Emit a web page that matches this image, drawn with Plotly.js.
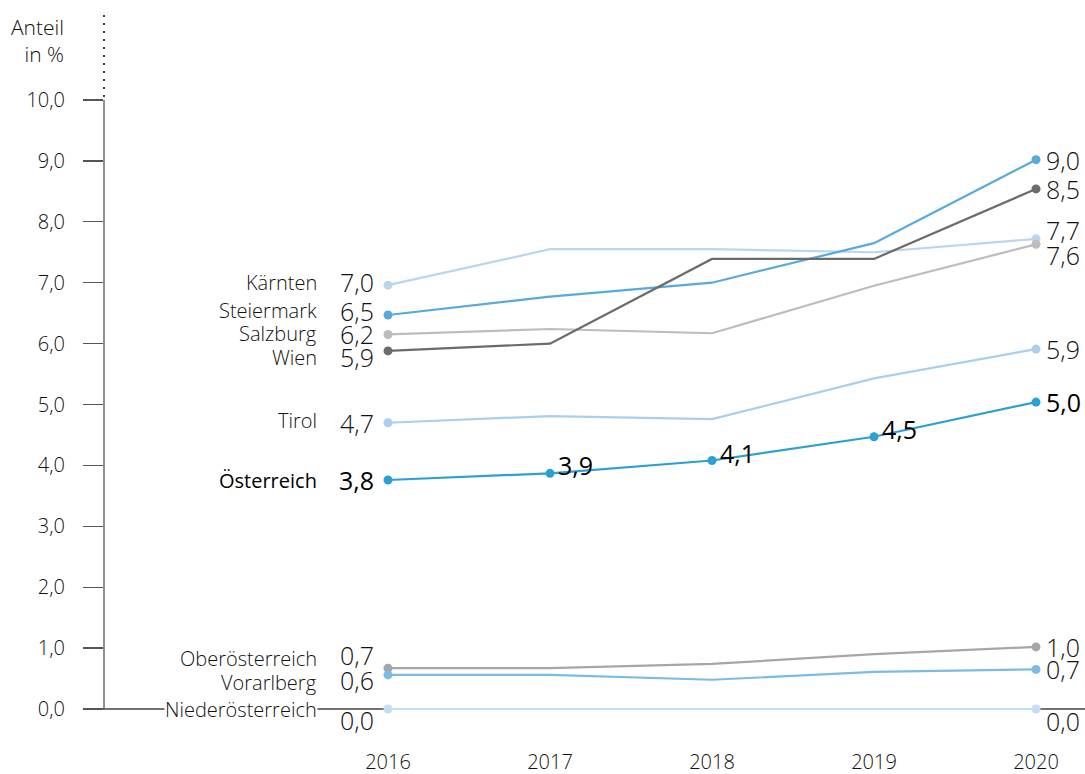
<!DOCTYPE html>
<html><head><meta charset="utf-8">
<script src="https://cdn.plot.ly/plotly-3.0.1.min.js"></script>
<style>html,body{margin:0;padding:0;background:#fff}#chart{width:1085px;height:774px}</style>
</head><body><div id="chart"></div>
<script>
// ---- data ----
const years = [2016, 2017, 2018, 2019, 2020];
const regions = ["Kärnten", "Steiermark", "Salzburg", "Wien", "Tirol", "Österreich", "Oberösterreich", "Vorarlberg", "Niederösterreich"];
const kaernten        = [6.96, 7.55, 7.55, 7.50, 7.72];
const steiermark      = [6.47, 6.77, 7.00, 7.65, 9.02];
const salzburg        = [6.15, 6.24, 6.17, 6.95, 7.63];
const wien            = [5.88, 6.00, 7.39, 7.39, 8.54];
const tirol           = [4.70, 4.81, 4.76, 5.43, 5.91];
const oesterreich     = [3.76, 3.87, 4.08, 4.47, 5.04];
const oberoesterreich = [0.67, 0.67, 0.74, 0.90, 1.02];
const vorarlberg      = [0.56, 0.56, 0.48, 0.61, 0.65];
const niederoesterreich = [0.0, 0.0, 0.0, 0.0, 0.0];
const yTicks = [0, 1, 2, 3, 4, 5, 6, 7, 8, 9, 10];
const axisLabel = "Anteil<br>in %";

// ---- styles ----
const seriesValues = [kaernten, steiermark, salzburg, wien, tirol, oesterreich, oberoesterreich, vorarlberg, niederoesterreich];
const colors = ["#b9d6ee", "#58a9dc", "#bdbdbd", "#6b6b6b", "#a9cfec", "#2c9fd4", "#a6a6a6", "#7cbbe3", "#c6def2"];
// pixel shifts for dodged labels (relative to the point)
const leftNameShift  = [3, 4, 1, -7, 2, 0, 10, -8, 0];
const leftValShift   = [3, 4, 0, -6, 0, 0, 13, -5, -11];
const rightValShift  = [9, 0, -11, 0, 0, 0, 0, 0, -12];
const fmt = v => v.toFixed(1).replace(".", ",");
const FONT = "Open Sans, Noto Sans, sans-serif";
const TXT = "#111";

const traces = seriesValues.map((vals, i) => ({
  x: years, y: vals, type: "scatter", mode: "lines",
  line: {color: colors[i], width: 2.2}, hoverinfo: "skip", showlegend: false
}));
seriesValues.forEach((vals, i) => {
  const idx = regions[i] === "Österreich" ? [0,1,2,3,4] : [0, 4];
  traces.push({
    x: idx.map(k => years[k]), y: idx.map(k => vals[k]), type: "scatter", mode: "markers",
    marker: {color: colors[i], size: 9}, hoverinfo: "skip", showlegend: false
  });
});

const annotations = [];
regions.forEach((name, i) => {
  const vals = seriesValues[i];
  const isAT = name === "Österreich";
  const col = isAT ? "#000" : TXT;
  const w = isAT ? 400 : 300;
  annotations.push({x: years[0], y: vals[0], xref: "x", yref: "y", text: name, showarrow: false,
    xanchor: "right", yanchor: "middle", xshift: -70, yshift: leftNameShift[i],
    font: {family: FONT, size: 20, color: col, weight: w},
    bgcolor: name === "Niederösterreich" ? "#fff" : "rgba(0,0,0,0)", borderpad: 0});
  annotations.push({x: years[0], y: vals[0], xref: "x", yref: "y", text: fmt(vals[0]), showarrow: false,
    xanchor: "right", yanchor: "middle", xshift: -12, yshift: leftValShift[i],
    font: {family: FONT, size: 25, color: col, weight: w}});
  annotations.push({x: years[4], y: vals[4], xref: "x", yref: "y", text: fmt(vals[4]), showarrow: false,
    xanchor: "left", yanchor: "middle", xshift: 8, yshift: rightValShift[i],
    font: {family: FONT, size: 25, color: col, weight: w}});
  if (isAT) {
    [1, 2, 3].forEach(k => annotations.push({x: years[k], y: vals[k], xref: "x", yref: "y", text: fmt(vals[k]),
      showarrow: false, xanchor: "left", yanchor: "middle", xshift: 6, yshift: 8,
      font: {family: FONT, size: 25, color: "#000", weight: 400}}));
  }
});
annotations.push({xref: "paper", yref: "paper", x: -38/981, y: 1 - 40/734, text: axisLabel, showarrow: false,
  xanchor: "right", yanchor: "middle", align: "right", font: {family: FONT, size: 21, color: TXT, weight: 300}});

const shapes = [
  {type: "line", xref: "paper", yref: "y", x0: 0, x1: 0, y0: 0, y1: 10, line: {color: "#555", width: 1.3}},
  {type: "line", xref: "paper", yref: "y", x0: 0, x1: 0, y0: 10.05, y1: 11.42, line: {color: "#444", width: 2, dash: "2px,6px"}},
  {type: "line", xref: "paper", yref: "y", x0: -20/981, x1: 1, y0: 0, y1: 0, line: {color: "#444", width: 1.3}, layer: "below"}
];

const layout = {
  width: 1085, height: 774,
  margin: {l: 104, r: 0, t: 0, b: 40},
  paper_bgcolor: "#fff", plot_bgcolor: "#fff",
  font: {family: FONT, color: TXT, size: 20},
  xaxis: {range: [2014.2469, 2020.3025], tickvals: years, ticktext: years.map(String),
    showgrid: false, zeroline: false, showline: false, ticks: "", ticklabelstandoff: 14,
    tickfont: {family: FONT, size: 20, color: TXT, weight: 300}, fixedrange: true},
  yaxis: {range: [-0.4105, 11.642], tickvals: yTicks, ticktext: yTicks.map(fmt),
    showgrid: false, zeroline: false, showline: false, ticks: "outside", ticklen: 20,
    tickcolor: "#555", tickwidth: 1.3, ticklabelstandoff: 14,
    tickfont: {family: FONT, size: 20, color: TXT, weight: 300}, fixedrange: true},
  shapes: shapes, annotations: annotations, showlegend: false
};
Plotly.newPlot("chart", traces, layout, {displayModeBar: false, staticPlot: true});
</script></body></html>
